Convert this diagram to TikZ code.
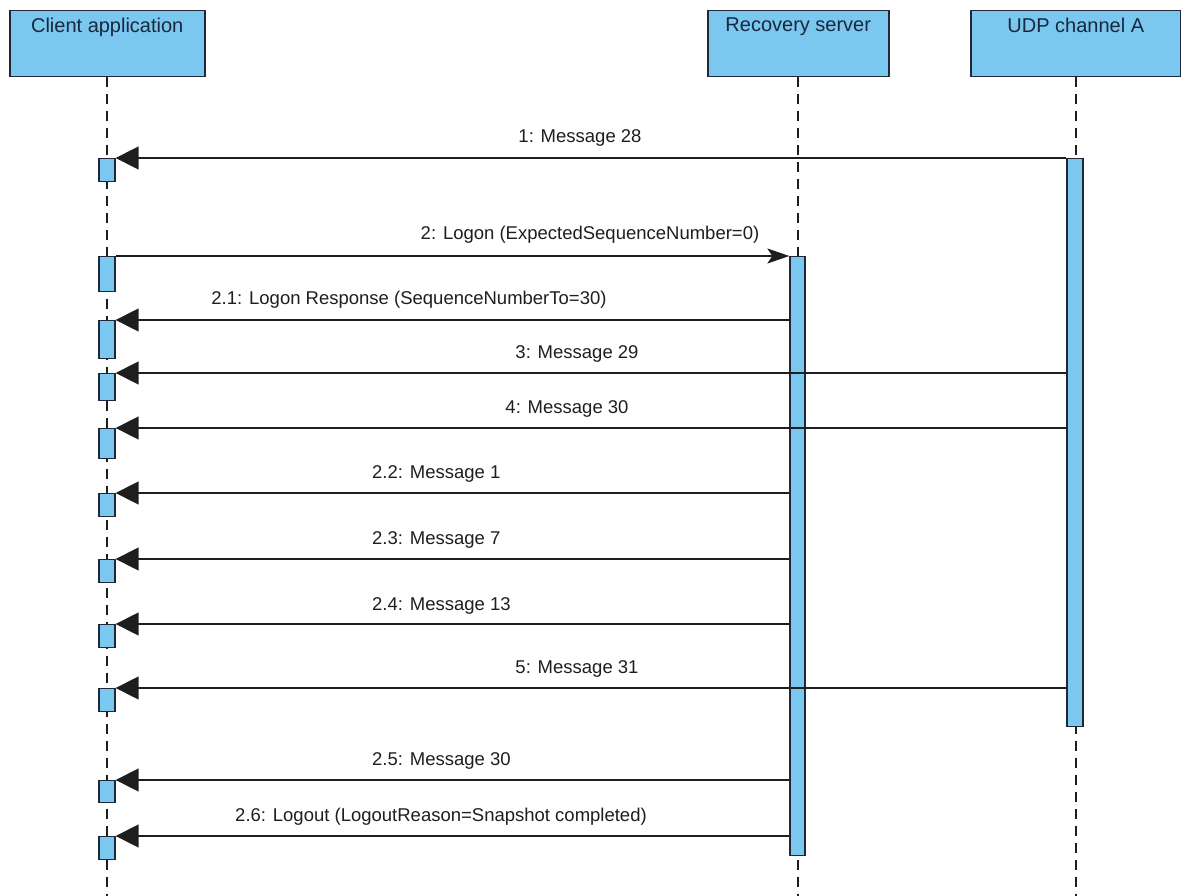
\documentclass[tikz,border=0pt]{standalone}
\usepackage{fontspec}
\setmainfont{Liberation Sans}
\usetikzlibrary{arrows.meta}
\definecolor{actfill}{RGB}{122,199,239}
\definecolor{edgecol}{RGB}{30,40,55}
\definecolor{headtxt}{RGB}{25,40,60}
\definecolor{linecol}{RGB}{30,30,30}
\begin{document}
\begin{tikzpicture}[x=1pt,y=-1pt,
  headbox/.style={draw=edgecol, fill=actfill, line width=1.5pt, anchor=north west, inner sep=0},
  headtext/.style={anchor=north, inner sep=0, text=headtxt, font=\fontsize{20}{23}\selectfont, yshift=-8pt},
  actbar/.style={draw=edgecol, fill=actfill, line width=1.3pt, minimum width=16pt, inner sep=0, anchor=north},
  lifeline/.style={draw=linecol, line width=1.7pt, dash pattern=on 10pt off 7pt},
  msg/.style={draw=linecol, line width=1.4pt, -{Triangle[length=23pt,width=23pt]}},
  callmsg/.style={draw=linecol, line width=1.4pt, -{Stealth[length=22pt,width=15pt,inset=5pt]}},
  msglabel/.style={anchor=base, inner sep=0, text=linecol, font=\fontsize{18.5}{21}\selectfont},
  msglabelw/.style={msglabel, anchor=base west}]
\useasboundingbox (0,0) rectangle (1181,896);
\coordinate (bot) at (0,896);

% heads
\node[headbox, minimum width=195pt, minimum height=66pt] (client) at (9,10) {};
\node[headtext] (clientlbl) at (client.north) {Client application};
\node[headbox, minimum width=181pt, minimum height=66pt] (server) at (707,10) {};
\node[headtext] (serverlbl) at (server.north) {Recovery server};
\node[headbox, minimum width=210pt, minimum height=66pt] (udp) at (970,10) {};
\node[headtext] (udplbl) at (udp.north) {UDP channel A};

% lifelines
\draw[lifeline] (client.south) -- (client.south |- bot);
\draw[lifeline] (server.south) -- (server.south |- bot);
\draw[lifeline] (udp.south) -- (udp.south |- bot);

% activation bars
\node[actbar, minimum height=568pt] (udpact) at (1075,158) {};
\node[actbar, minimum height=599pt, minimum width=15pt] (srvact) at (797.5,256) {};
\node[actbar, minimum height=23pt] (c1) at (107,158) {};
\node[actbar, minimum height=35pt] (c2) at (107,256) {};
\node[actbar, minimum height=38pt] (c3) at (107,320) {};
\node[actbar, minimum height=27pt] (c4) at (107,373) {};
\node[actbar, minimum height=30pt] (c5) at (107,428) {};
\node[actbar, minimum height=23pt] (c6) at (107,493) {};
\node[actbar, minimum height=23pt] (c7) at (107,559) {};
\node[actbar, minimum height=23pt] (c8) at (107,624) {};
\node[actbar, minimum height=23pt] (c9) at (107,688) {};
\node[actbar, minimum height=22pt] (c10) at (107,780) {};
\node[actbar, minimum height=23pt] (c11) at (107,836) {};

% messages
\draw[msg] (udpact.west |- c1.north) -- (c1.north east);
\draw[callmsg] (c2.north east) -- (srvact.north west);
\draw[msg] (srvact.west |- c3.north) -- (c3.north east);
\draw[msg] (udpact.west |- c4.north) -- (c4.north east);
\draw[msg] (udpact.west |- c5.north) -- (c5.north east);
\draw[msg] (srvact.west |- c6.north) -- (c6.north east);
\draw[msg] (srvact.west |- c7.north) -- (c7.north east);
\draw[msg] (srvact.west |- c8.north) -- (c8.north east);
\draw[msg] (udpact.west |- c9.north) -- (c9.north east);
\draw[msg] (srvact.west |- c10.north) -- (c10.north east);
\draw[msg] (srvact.west |- c11.north) -- (c11.north east);

% labels
\node[msglabel] (l1) at (580,143) {1: Message 28};
\node[msglabel] (l2) at (590,240) {2: Logon (ExpectedSequenceNumber=0)};
\node[msglabel] (l21) at (409,304) {2.1: Logon Response (SequenceNumberTo=30)};
\node[msglabel] (l3) at (577,358) {3: Message 29};
\node[msglabel] (l4) at (567,413) {4: Message 30};
\node[msglabelw] (l22) at (372,478) {2.2: Message 1};
\node[msglabelw] (l23) at (372,544) {2.3: Message 7};
\node[msglabelw] (l24) at (372,610) {2.4: Message 13};
\node[msglabel] (l5) at (577,673) {5: Message 31};
\node[msglabelw] (l25) at (372,765) {2.5: Message 30};
\node[msglabel] (l26) at (441,821) {2.6: Logout (LogoutReason=Snapshot completed)};
\end{tikzpicture}
\end{document}
